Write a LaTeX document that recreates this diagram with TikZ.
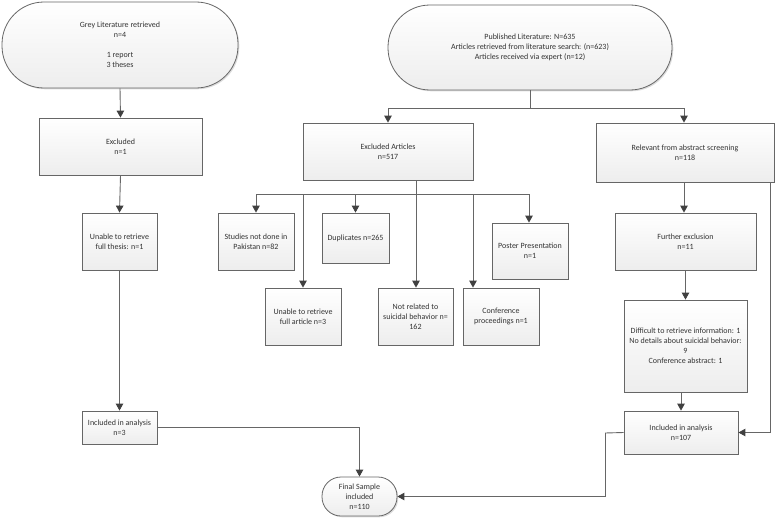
\documentclass[tikz,border=0pt]{standalone}
\usepackage{fontspec}
\setmainfont{Carlito}
\usetikzlibrary{arrows.meta,shadows}
\definecolor{linec}{HTML}{666666}
\definecolor{tipc}{HTML}{404040}
\definecolor{txtc}{HTML}{333333}
\begin{document}
\begin{tikzpicture}[x=1pt,y=-1pt,
  every node/.style={font=\fontsize{8}{10}\selectfont, text=txtc, align=center, inner sep=0pt},
  boxbase/.style={draw=linec, line width=0.8pt, top color=white, bottom color=gray!14,
     drop shadow={shadow xshift=1.3pt, shadow yshift=-1.3pt, fill=gray!60, opacity=0.45}},
  conn/.style={draw=linec, line width=0.9pt},
  arr/.style={conn, -{Triangle[width=7.5pt,length=7pt,color=tipc]}}
]
\useasboundingbox (0,0) rectangle (778,519);
\newcommand{\pbox}[7][]{% opts, name, x1, x2, y1, y2, text
  \node[boxbase, #1, minimum width={#4pt-#3pt}, minimum height={#6pt-#5pt}]
    (#2) at ({(#3+#4)/2},{(#5+#6)/2}) {#7};}
% left column
\pbox[rounded corners=42pt]{grey}{2}{238}{2}{88}{Grey Literature retrieved\\ n=4\\[10pt] 1 report\\ 3 theses}
\pbox{excl}{39}{202}{118}{175}{Excluded\\ n=1}
\pbox{thesis}{82}{157}{213}{270}{Unable to retrieve\\ full thesis: n=1}
\pbox{incA}{82}{157}{411}{444}{Included in analysis\\ n=3}
% top right
\pbox[rounded corners=42pt]{pub}{388}{672}{5}{90}{Published Literature: N=635\\ Articles retrieved from literature search: (n=623)\\ Articles received via expert (n=12)}
\pbox{exart}{303}{473}{123}{180}{Excluded Articles\\ n=517}
\pbox{relev}{596}{774}{123}{182}{Relevant from abstract screening\\ n=118}
% excluded children
\pbox{pak}{218}{294}{213}{270}{Studies not done in\\ Pakistan n=82}
\pbox{dup}{322}{389}{213}{263}{Duplicates n=265}
\pbox{unfull}{265}{341}{288}{345}{Unable to retrieve\\ full article n=3}
\pbox{notrel}{378}{453}{288}{345}{Not related to\\ suicidal behavior n=\\ 162}
\pbox{conf}{463}{539}{288}{345}{Conference\\ proceedings n=1}
\pbox{poster}{492}{568}{223}{279}{Poster Presentation\\ n=1}
% right column
\pbox{further}{615}{756}{213}{270}{Further exclusion\\ n=11}
\pbox{diff}{624}{747}{300}{392}{Difficult to retrieve information: 1\\ No details about suicidal behavior:\\ 9\\ Conference abstract: 1}
\pbox{incB}{624}{738}{411}{454}{Included in analysis\\ n=107}
% final
\pbox[rounded corners=19pt]{final}{322}{397}{477}{516}{Final Sample\\ included\\ n=110}

% connectors left column
\draw[arr] (grey.south) -- (excl.north);
\draw[arr] (excl.south) -- (thesis.north);
\draw[arr] (thesis.south) -- (incA.north);
\draw[arr] (incA.east) -| (final.north);

% published split
\coordinate (pubJ) at (530,108);
\draw[conn] (pub.south) -- (pubJ);
\draw[arr] (pubJ) -| (exart.north);
\draw[arr] (pubJ) -| ([xshift=-1pt]relev.north);

% excluded bus
\coordinate (busL) at (256,194);
\coordinate (busR) at (529,194);
\coordinate (nrX) at (416,194);
\coordinate (cfX) at (473,194);
\draw[conn] (busL) -- (busR);
\draw[arr] (exart.south -| nrX) -- (notrel.north -| nrX);
\draw[arr] (busL) -- (pak.north);
\draw[arr] (busL -| unfull.north) -- (unfull.north);
\draw[arr] (busL -| dup.north) -- (dup.north);
\draw[arr] (cfX) -- (conf.north -| cfX);
\draw[arr] (busR) -- (busR |- poster.north);

% right column
\draw[arr] ([xshift=-1pt]relev.south) -- ([xshift=-1pt]relev.south |- further.north);
\draw[arr] (further.south) -- (further.south |- diff.north);
\draw[arr] (diff.south -| incB.north) -- (incB.north);
\coordinate (rJ) at (770,182);
\draw[arr] (rJ) |- (incB.east);
\coordinate (bJ) at (605,433);
\draw[conn] (incB.west) -- (bJ);
\draw[arr] (bJ) |- (final.east);
\end{tikzpicture}
\end{document}
